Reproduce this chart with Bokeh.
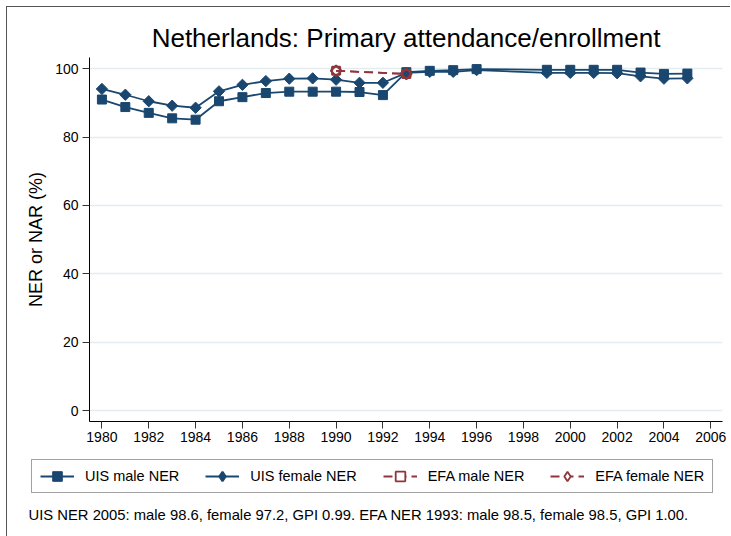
import numpy as np
from bokeh.plotting import figure
from bokeh.layouts import column
from bokeh.models import FixedTicker, Legend, LegendItem, Label, Range1d
from bokeh.embed import file_html
from bokeh.resources import INLINE

# ---- data ----
uis_years = [1980, 1981, 1982, 1983, 1984, 1985, 1986, 1987, 1988, 1989, 1990, 1991,
             1992, 1993, 1994, 1995, 1996, 1999, 2000, 2001, 2002, 2003, 2004, 2005]
uis_male = [91.0, 88.8, 87.1, 85.5, 85.1, 90.5, 91.7, 92.9, 93.3, 93.3, 93.3, 93.2,
            92.3, 99.0, 99.4, 99.6, 99.9, 99.7, 99.7, 99.7, 99.7, 98.9, 98.5, 98.6]
uis_female = [94.1, 92.4, 90.5, 89.2, 88.6, 93.4, 95.3, 96.4, 97.1, 97.2, 96.8, 95.9,
              95.9, 98.8, 99.1, 99.1, 99.6, 98.8, 98.8, 98.8, 98.7, 97.8, 97.1, 97.2]
efa_years = [1990, 1993]
efa_male = [99.4, 98.5]
efa_female = [99.4, 98.5]

x_ticks = list(range(1980, 2007, 2))
y_ticks = [0, 20, 40, 60, 80, 100]

title_text = "Netherlands: Primary attendance/enrollment"
y_label = "NER or NAR (%)"
note_text = ("UIS NER 2005: male 98.6, female 97.2, GPI 0.99. "
             "EFA NER 1993: male 98.5, female 98.5, GPI 1.00.")
series_names = ["UIS male NER", "UIS female NER", "EFA male NER", "EFA female NER"]

NAVY = "#1a476f"
MAROON = "#90353b"
FONT = "Liberation Sans"
EFA_DASH = "9 5"

# ---------------- main chart ----------------
p = figure(width=730, height=452, output_backend="svg", toolbar_location=None,
           x_range=Range1d(1979.47, 2006.5), y_range=Range1d(-3.2, 103.3),
           min_border_left=89, min_border_right=8, min_border_top=57,
           min_border_bottom=31)
p.outline_line_color = None
p.background_fill_color = "white"
p.border_fill_alpha = 0

p.title.text = title_text
p.title.align = "center"
p.title.text_font = FONT
p.title.text_font_size = "26px"
p.title.text_font_style = "normal"
p.title.text_color = "black"
p.title.standoff = 9

p.xaxis.ticker = FixedTicker(ticks=x_ticks)
p.yaxis.ticker = FixedTicker(ticks=y_ticks)
for ax in (p.xaxis[0], p.yaxis[0]):
    ax.major_label_text_font = FONT
    ax.major_label_text_font_size = "14px"
    ax.major_label_text_color = "black"
    ax.axis_line_color = "black"
    ax.axis_line_width = 1
    ax.major_tick_line_color = "#333333"
    ax.major_tick_out = 7
    ax.major_tick_in = 0
    ax.minor_tick_out = 0
    ax.minor_tick_in = 0
p.yaxis.major_label_standoff = 4
p.xaxis.major_label_standoff = 3
p.yaxis.axis_label = y_label
p.yaxis.axis_label_text_font = FONT
p.yaxis.axis_label_text_font_size = "18px"
p.yaxis.axis_label_text_font_style = "normal"
p.yaxis.axis_label_text_color = "black"
p.yaxis.axis_label_standoff = 6

p.xgrid.grid_line_color = None
p.ygrid.grid_line_color = "#e3ecef"
p.ygrid.grid_line_width = 1.5

p.line(uis_years, uis_male, line_color=NAVY, line_width=1.8)
p.scatter(uis_years, uis_male, marker="square", size=9, fill_color=NAVY, line_color=NAVY)
p.line(uis_years, uis_female, line_color=NAVY, line_width=1.8)
p.scatter(uis_years, uis_female, marker="square", size=8, angle=np.pi / 4,
          fill_color=NAVY, line_color=NAVY)
p.line(efa_years, efa_male, line_color=MAROON, line_width=1.8, line_dash=EFA_DASH)
p.scatter(efa_years, efa_male, marker="square", size=8, fill_color=None,
          line_color=MAROON, line_width=2)
p.line(efa_years, efa_female, line_color=MAROON, line_width=1.8, line_dash=EFA_DASH)
p.scatter(efa_years, efa_female, marker="square", size=7.5, angle=np.pi / 4,
          fill_color=None, line_color=MAROON, line_width=2)

# ---------------- legend + note strip ----------------
# Same series drawn again here only to feed the legend; this strip's ranges keep
# them out of view, so only the legend keys show.
q = figure(width=730, height=84, output_backend="svg", toolbar_location=None,
           x_range=Range1d(0, 1), y_range=Range1d(0, 1),
           x_axis_type=None, y_axis_type=None,
           min_border_left=0, min_border_right=0, min_border_top=0, min_border_bottom=0)
q.outline_line_color = None
q.grid.grid_line_color = None
q.background_fill_alpha = 0
q.border_fill_alpha = 0

for fig in (p, q):
    if "frame_align" in fig.properties():
        fig.frame_align = False

k1 = q.line(uis_years, uis_male, line_color=NAVY, line_width=1.8)
m1 = q.scatter(uis_years, uis_male, marker="square", fill_color=NAVY, line_color=NAVY)
k2 = q.line(uis_years, uis_female, line_color=NAVY, line_width=1.8)
m2 = q.scatter(uis_years, uis_female, marker="diamond", fill_color=NAVY, line_color=NAVY,
               line_width=2)
k3 = q.line(efa_years, efa_male, line_color=MAROON, line_width=1.8, line_dash=EFA_DASH)
m3 = q.scatter(efa_years, efa_male, marker="square", fill_color="white",
               line_color=MAROON, line_width=1.8)
k4 = q.line(efa_years, efa_female, line_color=MAROON, line_width=1.8, line_dash=EFA_DASH)
m4 = q.scatter(efa_years, efa_female, marker="diamond", fill_color="white",
               line_color=MAROON, line_width=1.8)

legend = Legend(items=[
    LegendItem(label=series_names[0], renderers=[k1, m1], index=0),
    LegendItem(label=series_names[1], renderers=[k2, m2], index=0),
    LegendItem(label=series_names[2], renderers=[k3, m3], index=0),
    LegendItem(label=series_names[3], renderers=[k4, m4], index=0),
], orientation="horizontal", location=(31, 43))
legend.label_text_font = FONT
legend.label_text_font_size = "14.5px"
legend.label_text_color = "black"
legend.glyph_width = 34
legend.glyph_height = 24
legend.label_height = 24
legend.label_standoff = 11
legend.spacing = 26
legend.padding = {"x": 8, "y": 4}
legend.margin = 0
legend.border_line_color = "#444444"
legend.border_line_width = 1
legend.background_fill_color = "white"
legend.background_fill_alpha = 1
q.add_layout(legend, "center")

note = Label(x=28, y=22, x_units="screen", y_units="screen", text=note_text,
             text_font=FONT, text_font_size="14.8px", text_color="black",
             text_baseline="alphabetic")
q.add_layout(note)

frame_css = ("linear-gradient(#555555, #555555) 6px 6px / 725px 1px no-repeat, "
             "linear-gradient(#555555, #555555) 6px 6px / 1px 530px no-repeat, white")
page = column(p, q, spacing=0, styles={"background": frame_css})
open("out.html", "w").write(file_html(page, INLINE))
